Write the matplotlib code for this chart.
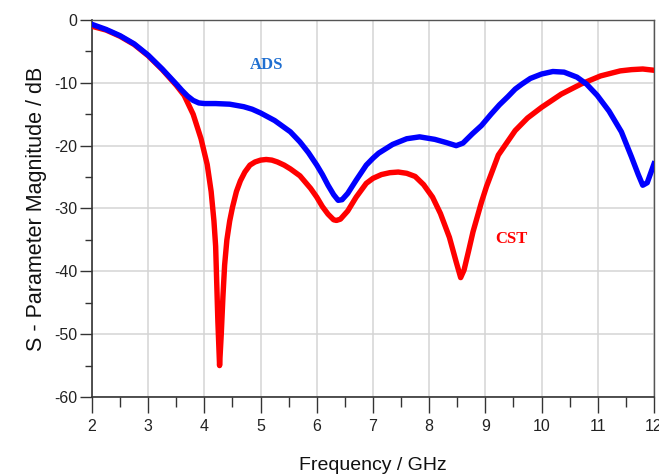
import matplotlib
matplotlib.use('Agg')
import matplotlib.pyplot as plt
import numpy as np

# CST curve
freq_cst = [2.0, 2.25, 2.5, 2.75, 3.0, 3.25, 3.5, 3.64, 3.8, 3.94, 4.05, 4.12, 4.17, 4.2, 4.22,
            4.24, 4.27, 4.3, 4.33, 4.36, 4.4, 4.45, 4.5, 4.57, 4.64, 4.72, 4.81, 4.9, 5.0, 5.1,
            5.2, 5.3, 5.42, 5.53, 5.7, 5.89, 6.0, 6.1, 6.2, 6.3, 6.35, 6.42, 6.55, 6.7, 6.88,
            7.0, 7.15, 7.3, 7.45, 7.6, 7.75, 7.9, 8.06, 8.2, 8.36, 8.48, 8.56, 8.62, 8.7,
            8.78, 8.93, 9.02, 9.23, 9.53, 9.75, 10.0, 10.35, 10.7, 11.05, 11.4, 11.6, 11.8, 12.0]
s_cst = [-1.0, -1.6, -2.6, -3.9, -5.7, -7.9, -10.4, -12.0, -15.0, -18.9, -23.0, -27.3, -32.0, -36.0, -42.0,
         -48.0, -55.0, -50.0, -44.0, -39.0, -35.0, -32.0, -29.8, -27.3, -25.6, -24.2, -23.1, -22.6, -22.3, -22.2,
         -22.3, -22.6, -23.1, -23.7, -24.8, -26.8, -28.2, -29.7, -30.9, -31.8, -31.9, -31.7, -30.4, -28.2, -26.0,
         -25.2, -24.6, -24.3, -24.2, -24.4, -24.9, -26.2, -28.2, -30.8, -34.6, -38.5, -41.0, -39.8, -36.8,
         -33.7, -29.0, -26.5, -21.5, -17.6, -15.6, -13.9, -11.8, -10.2, -8.9, -8.1, -7.9, -7.8, -8.0]

# ADS curve
freq_ads = [2.0, 2.25, 2.5, 2.75, 3.0, 3.25, 3.5, 3.6, 3.7, 3.8, 3.9, 4.0, 4.2, 4.45, 4.7,
            4.85, 5.0, 5.25, 5.53, 5.7, 5.85, 6.0, 6.1, 6.2, 6.3, 6.38, 6.45, 6.55, 6.7, 6.88,
            7.0, 7.1, 7.35, 7.6, 7.83, 8.1, 8.3, 8.48, 8.6, 8.77, 8.93, 9.1, 9.25, 9.4, 9.53,
            9.65, 9.8, 10.0, 10.2, 10.4, 10.63, 10.8, 10.99, 11.2, 11.42, 11.6, 11.72, 11.8,
            11.88, 12.0]
s_ads = [-0.7, -1.5, -2.5, -3.8, -5.6, -7.8, -10.2, -11.2, -12.1, -12.8, -13.2, -13.3, -13.3, -13.4, -13.8,
         -14.2, -14.8, -16.0, -17.8, -19.4, -21.1, -23.1, -24.6, -26.3, -27.8, -28.7, -28.6, -27.6, -25.5, -23.1,
         -22.0, -21.2, -19.8, -18.9, -18.6, -19.0, -19.5, -20.0, -19.6, -18.1, -16.8, -15.0, -13.5, -12.2, -11.0,
         -10.2, -9.3, -8.6, -8.2, -8.3, -9.1, -10.2, -12.0, -14.5, -17.8, -21.8, -24.6, -26.3,
         -25.9, -22.9]

x_ticks = [2, 3, 4, 5, 6, 7, 8, 9, 10, 11, 12]
y_ticks = [0, -10, -20, -30, -40, -50, -60]

plt.rcParams['font.family'] = ['Liberation Sans', 'DejaVu Sans']
plt.rcParams['axes.unicode_minus'] = False

fig = plt.figure(figsize=(6.59, 4.76), dpi=100)
ax = fig.add_axes([0.1396, 0.166, 0.8528, 0.792])

ax.plot(freq_cst, s_cst, color='#ff0000', lw=3.9, solid_joinstyle='round', zorder=3)
ax.plot(freq_ads, s_ads, color='#0000ff', lw=3.9, solid_joinstyle='round', zorder=4)

ax.set_xlim(2, 12)
ax.set_ylim(-60, 0)
ax.set_xticks(x_ticks)
ax.set_yticks(y_ticks)
ax.set_xticks(np.arange(2.5, 12, 1.0), minor=True)
ax.set_yticks(np.arange(-55, 0, 10), minor=True)

ax.grid(True, which='major', color='#d4d4d4', lw=1.1, zorder=0)
ax.tick_params(axis='x', which='major', length=11.5, width=1, color='#333333', pad=4, labelsize=11.5, labelcolor='#222222')
ax.tick_params(axis='x', which='minor', length=7, width=1, color='#333333')
ax.tick_params(axis='y', which='major', length=8.5, width=1, color='#333333', pad=2, labelsize=11.5, labelcolor='#222222')
ax.tick_params(axis='y', which='minor', length=5, width=1, color='#333333')

for side in ['left', 'bottom']:
    ax.spines[side].set_color('#333333')
    ax.spines[side].set_linewidth(1.2)
for side in ['top', 'right']:
    ax.spines[side].set_color('#555555')
    ax.spines[side].set_linewidth(1.0)

ax.set_xlabel('Frequency / GHz', fontsize=14, labelpad=17, color='#111111')
ax.set_ylabel('S - Parameter Magnitude / dB', fontsize=15.5, labelpad=5, color='#111111')

ax.text(5.11, -7.1, 'ADS', color='#1f6fd1', fontsize=12, fontweight='bold',
        family='Liberation Serif', ha='center', va='center')
ax.text(9.47, -34.9, 'CST', color='#ff0000', fontsize=12, fontweight='bold',
        family='Liberation Serif', ha='center', va='center')

fig.savefig('out.png', dpi=100)
